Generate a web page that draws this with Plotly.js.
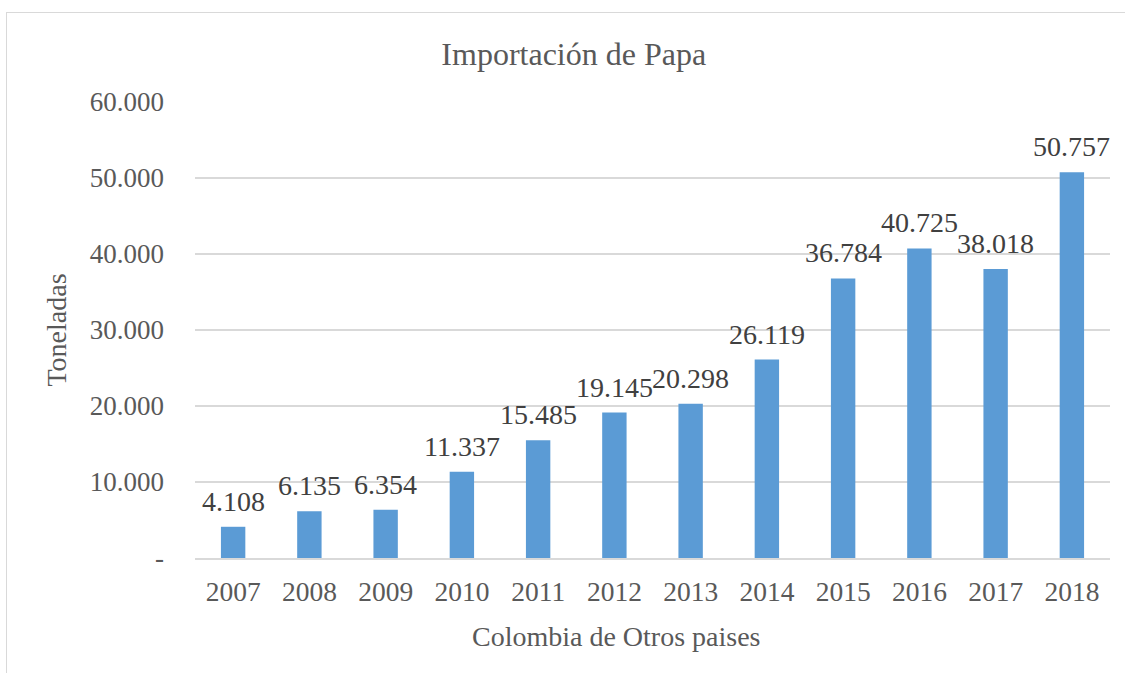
<!DOCTYPE html>
<html>
<head>
<meta charset="utf-8">
<script src="https://cdn.plot.ly/plotly-3.0.1.min.js"></script>
<style>
  html, body { margin: 0; padding: 0; background: #ffffff; overflow: hidden; }
  #chart { width: 1125px; height: 673px; }
  #frame { position: absolute; left: 6px; top: 12px; width: 1140px; height: 700px;
           border: 1.5px solid #d9d9d9; pointer-events: none; }
</style>
</head>
<body>
<div id="chart"></div>
<div id="frame"></div>
<script>
const years = ['2007','2008','2009','2010','2011','2012','2013','2014','2015','2016','2017','2018'];
const toneladas = [4108, 6135, 6354, 11337, 15485, 19145, 20298, 26119, 36784, 40725, 38018, 50757];
const yTickVals = [0, 10000, 20000, 30000, 40000, 50000, 60000];
const yTickText = ['-', '10.000', '20.000', '30.000', '40.000', '50.000', '60.000'];
const titleText = 'Importación de Papa';
const xTitleText = 'Colombia de Otros paises';
const yTitleText = 'Toneladas';

const gray = '#595959';
const fontFam = 'Liberation Serif, Times New Roman, serif';

function fmt(v) {
  return String(v).replace(/\B(?=(\d{3})+(?!\d))/g, '.');
}

const trace = {
  type: 'bar',
  x: years,
  y: toneladas,
  marker: { color: '#5B9BD5' },
  hoverinfo: 'x+y'
};

// category axis: annotation x given as category index
const labelAnnotations = years.map((yr, i) => ({
  x: i,
  y: toneladas[i],
  xref: 'x',
  yref: 'y',
  text: fmt(toneladas[i]),
  showarrow: false,
  xanchor: 'center',
  yanchor: 'bottom',
  yshift: 8,
  font: { family: fontFam, size: 28, color: '#404040' }
}));

const layout = {
  width: 1125,
  height: 673,
  paper_bgcolor: '#ffffff',
  plot_bgcolor: '#ffffff',
  margin: { l: 195, r: 15, t: 102, b: 115 },
  bargap: 0.68,
  showlegend: false,
  font: { family: fontFam, color: gray },
  title: {
    text: titleText,
    font: { family: fontFam, size: 32, color: gray },
    x: 0.51, xref: 'container', xanchor: 'center',
    y: 0.92, yref: 'container', yanchor: 'middle'
  },
  xaxis: {
    type: 'category',
    categoryorder: 'array',
    categoryarray: years,
    range: [-0.5, years.length - 0.5],
    showgrid: false,
    showline: true,
    linecolor: '#d9d9d9',
    linewidth: 1.5,
    ticks: '',
    ticklabelstandoff: 8,
    tickfont: { family: fontFam, size: 27.5, color: gray }
  },
  yaxis: {
    range: [0, 60000],
    tickvals: yTickVals,
    ticktext: yTickText,
    showgrid: true,
    gridcolor: '#d9d9d9',
    gridwidth: 1.5,
    zeroline: false,
    showline: false,
    ticks: '',
    ticklabelstandoff: 30,
    tickfont: { family: fontFam, size: 27, color: gray },
    title: { text: yTitleText, font: { family: fontFam, size: 28, color: gray }, standoff: 14 }
  },
  annotations: labelAnnotations.concat([{
    text: xTitleText,
    xref: 'paper', yref: 'paper',
    x: 0.461, y: -0.172,
    xanchor: 'center', yanchor: 'middle',
    showarrow: false,
    font: { family: fontFam, size: 28, color: gray }
  }])
};

Plotly.newPlot('chart', [trace], layout, { displayModeBar: false, staticPlot: true });
</script>
</body>
</html>
